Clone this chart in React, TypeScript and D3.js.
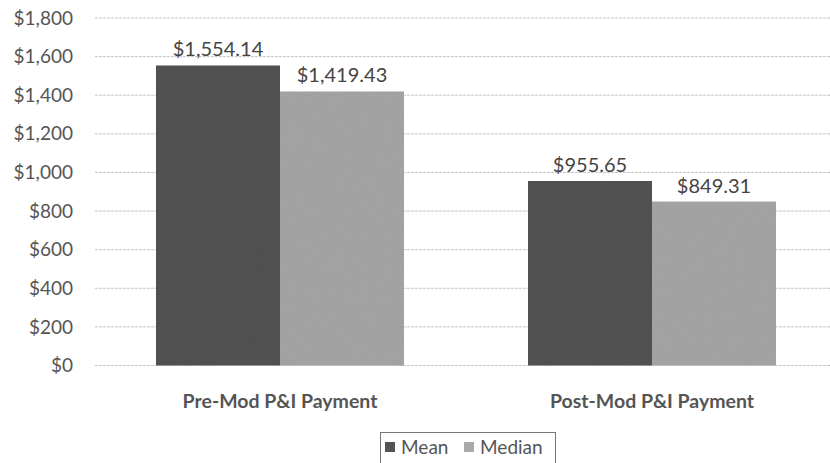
import React from "react";
import * as d3 from "d3";

const categories = ["Pre-Mod P&I Payment", "Post-Mod P&I Payment"];
const seriesNames = ["Mean", "Median"];
const meanValues = [1554.14, 955.65];
const medianValues = [1419.43, 849.31];
const yTicks = [0, 200, 400, 600, 800, 1000, 1200, 1400, 1600, 1800];

const W = 830;
const H = 463;
const colors = ["#545454", "#a9a9a9"];

export default function App() {
  const x = d3.scaleBand<string>().domain(categories).range([94, 838]).paddingInner(0).paddingOuter(0);
  const x1 = d3.scaleBand<string>().domain(seriesNames).range([0, x.bandwidth()]).paddingOuter(0.5).paddingInner(0);
  const y = d3.scaleLinear().domain([0, 1800]).range([365.5, 18]);
  const fmtAxis = (v: number) => "$" + d3.format(",")(v);
  const fmtLbl = (v: number) => "$" + d3.format(",.2f")(v);
  const series = [meanValues, medianValues];
  const font = "Lato, 'Open Sans', sans-serif";

  return (
    <svg width={W} height={H} style={{ position: "absolute", left: 0, top: 0, background: "#fff" }}>
      <defs>
        <filter id="grain" x="0" y="0" width="100%" height="100%">
          <feTurbulence type="fractalNoise" baseFrequency="0.9" numOctaves="2" seed="3" result="n" />
          <feColorMatrix type="saturate" values="0" in="n" result="g" />
          <feComponentTransfer in="g" result="g2">
            <feFuncA type="linear" slope="0" intercept="0.18" />
          </feComponentTransfer>
          <feComposite in="g2" in2="SourceGraphic" operator="in" result="gi" />
          <feBlend in="SourceGraphic" in2="gi" mode="multiply" />
        </filter>
      </defs>
      {yTicks.map((t) => (
        <g key={t}>
          <line x1={95} x2={830} y1={y(t)} y2={y(t)} stroke="#c4c4c4" strokeWidth={1} strokeDasharray="3,1" />
          <text x={73} y={y(t)} dy="0.35em" textAnchor="end" fontFamily={font} fontSize={19} fill="#555">
            {fmtAxis(t)}
          </text>
        </g>
      ))}
      {categories.map((c, ci) => (
        <g key={c}>
          {seriesNames.map((s, si) => {
            const v = series[si][ci];
            const bx = (x(c) as number) + (x1(s) as number);
            return (
              <g key={s}>
                <rect x={bx} y={y(v)} width={x1.bandwidth()} height={y(0) - y(v)} fill={colors[si]} filter="url(#grain)" />
                <text x={bx + x1.bandwidth() / 2} y={y(v) - 9} textAnchor="middle" fontFamily={font} fontSize={20} fill="#444">
                  {fmtLbl(v)}
                </text>
              </g>
            );
          })}
          <text x={(x(c) as number) + x.bandwidth() / 2} y={408} textAnchor="middle" fontFamily={font} fontWeight="bold" fontSize={19.5} fill="#555">
            {c}
          </text>
        </g>
      ))}
      <g>
        <rect x={380.5} y={432.5} width={175} height={40} fill="none" stroke="#777" strokeWidth={1} />
        {seriesNames.map((s, i) => {
          const lx = i === 0 ? 385 : 464;
          return (
            <g key={s}>
              <rect x={lx} y={442} width={10} height={10} fill={colors[i]} />
              <text x={lx + 16} y={447} dy="0.35em" fontFamily={font} fontSize={19} fill="#555">
                {s}
              </text>
            </g>
          );
        })}
      </g>
    </svg>
  );
}
